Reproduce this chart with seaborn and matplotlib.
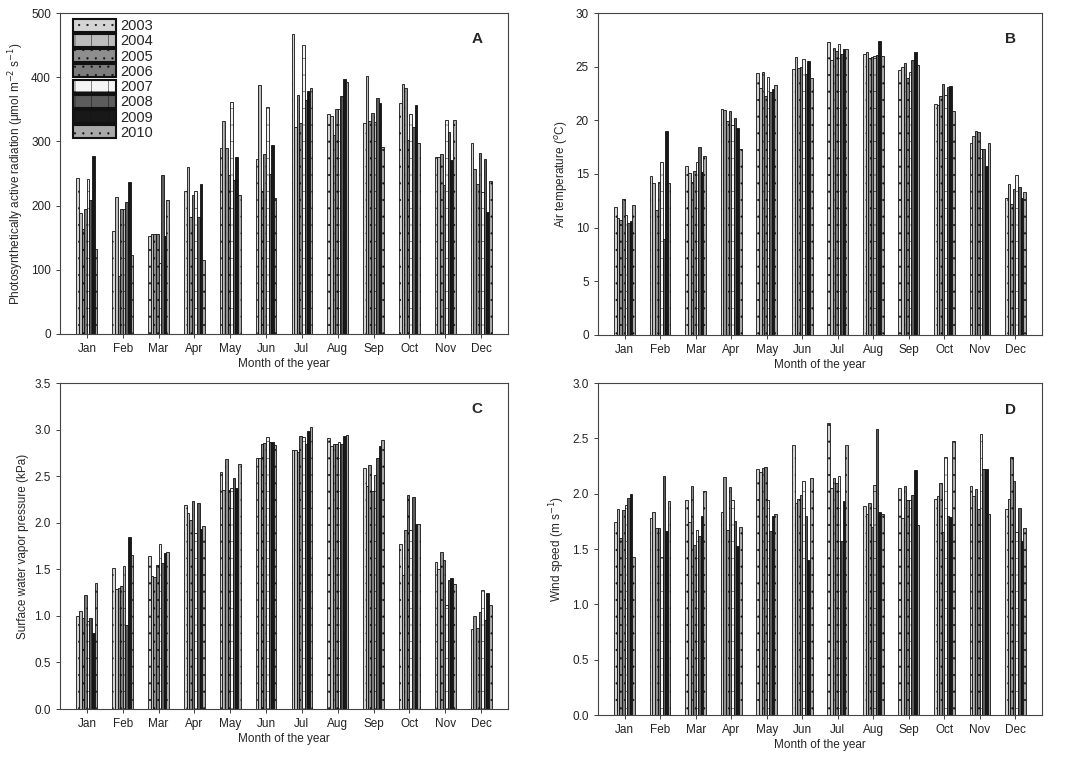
import matplotlib
matplotlib.use("Agg")
import matplotlib.pyplot as plt
import pandas as pd
import seaborn as sns

months = ["Jan", "Feb", "Mar", "Apr", "May", "Jun", "Jul", "Aug", "Sep", "Oct", "Nov", "Dec"]
years = ["2003", "2004", "2005", "2006", "2007", "2008", "2009", "2010"]

# rows = months, columns = years 2003..2010
par = [
    [243, 188, 163, 195, 241, 208, 277, 133],
    [161, 214, 90, 195, 195, 205, 237, 123],
    [152, 155, 156, 156, 110, 248, 152, 209],
    [223, 260, 183, 216, 222, 182, 234, 115],
    [290, 331, 290, 248, 361, 240, 275, 217],
    [272, 388, 223, 280, 354, 250, 295, 212],
    [468, 323, 373, 328, 450, 365, 379, 383],
    [342, 340, 310, 350, 350, 370, 397, 393],
    [328, 402, 332, 344, 330, 367, 360, 291],
    [360, 389, 383, 302, 342, 323, 357, 298],
    [276, 276, 280, 232, 334, 315, 271, 333],
    [298, 257, 234, 282, 221, 272, 190, 239],
]
air_temp = [
    [11.9, 10.9, 10.7, 12.7, 11.2, 10.4, 10.6, 12.1],
    [14.8, 14.2, 11.6, 14.3, 16.1, 8.9, 19.0, 14.2],
    [15.7, 15.1, 14.3, 15.3, 16.1, 17.5, 15.2, 16.7],
    [21.1, 21.0, 19.9, 20.9, 19.6, 20.2, 19.3, 17.3],
    [24.4, 23.0, 24.5, 22.3, 24.0, 22.6, 22.9, 23.3],
    [24.8, 25.9, 24.9, 25.0, 25.7, 24.3, 25.5, 23.9],
    [27.3, 25.6, 26.7, 26.5, 27.1, 26.2, 26.6, 26.6],
    [26.2, 26.4, 25.8, 25.9, 26.0, 26.1, 27.4, 26.0],
    [24.7, 25.0, 25.3, 23.9, 24.5, 25.6, 26.4, 25.2],
    [21.5, 21.4, 22.3, 23.4, 22.4, 23.1, 23.2, 20.9],
    [17.9, 18.5, 19.0, 18.9, 17.3, 17.3, 15.7, 17.9],
    [12.8, 14.1, 12.2, 13.6, 14.9, 13.8, 12.8, 13.3],
]
vapor = [
    [1.00, 1.05, 0.98, 1.22, 0.94, 0.98, 0.82, 1.35],
    [1.51, 1.29, 1.30, 1.32, 1.54, 0.90, 1.85, 1.65],
    [1.64, 1.43, 1.42, 1.55, 1.77, 1.57, 1.68, 1.69],
    [2.19, 2.10, 2.03, 2.23, 1.89, 2.21, 1.93, 1.96],
    [2.54, 2.35, 2.68, 2.35, 2.37, 2.48, 2.37, 2.63],
    [2.70, 2.69, 2.84, 2.86, 2.92, 2.87, 2.87, 2.83],
    [2.78, 2.78, 2.76, 2.93, 2.92, 2.84, 2.98, 3.03],
    [2.91, 2.82, 2.85, 2.84, 2.87, 2.84, 2.93, 2.94],
    [2.59, 2.39, 2.62, 2.34, 2.51, 2.70, 2.82, 2.89],
    [1.77, 1.44, 1.92, 2.30, 1.92, 2.28, 1.99, 1.99],
    [1.58, 1.50, 1.69, 1.60, 1.12, 1.39, 1.41, 1.34],
    [0.86, 1.00, 0.87, 1.04, 1.28, 0.96, 1.25, 1.12],
]
wind = [
    [1.74, 1.86, 1.60, 1.85, 1.90, 1.96, 2.00, 1.43],
    [1.78, 1.83, 1.69, 1.69, 1.43, 2.16, 1.66, 1.93],
    [1.94, 1.74, 2.07, 1.54, 1.67, 1.62, 1.80, 2.02],
    [1.83, 2.15, 1.67, 2.06, 1.94, 1.75, 1.53, 1.70],
    [2.22, 2.20, 2.23, 2.24, 1.94, 1.66, 1.80, 1.82],
    [2.44, 1.92, 1.95, 1.99, 2.11, 1.80, 1.40, 2.14],
    [2.64, 2.05, 2.14, 2.10, 2.16, 1.57, 1.93, 2.44],
    [1.89, 1.82, 1.92, 1.70, 2.08, 2.58, 1.83, 1.82],
    [2.05, 1.78, 2.07, 1.94, 1.94, 1.99, 2.21, 1.72],
    [1.95, 1.98, 2.10, 1.65, 2.33, 1.80, 1.79, 2.48],
    [2.07, 1.98, 2.04, 1.86, 2.54, 2.22, 2.22, 1.82],
    [1.86, 1.95, 2.33, 2.11, 1.65, 1.87, 1.57, 1.69],
]

year_colors = ["#d4d4d4", "#bdbdbd", "#8e8e8e", "#7c7c7c", "#f4f4f4", "#5c5c5c", "#181818", "#a9a9a9"]
year_hatch = ["..", "|", "..", "..", "+", "|", "|", ".."]


def to_long(values):
    rows = []
    for m, row in zip(months, values):
        for y, v in zip(years, row):
            rows.append({"month": m, "year": y, "value": v})
    return pd.DataFrame(rows)


sns.set_style("ticks")
plt.rcParams["hatch.linewidth"] = 0.35
plt.rcParams["font.family"] = ["Liberation Sans", "DejaVu Sans"]

fig = plt.figure(figsize=(10.84, 7.61), dpi=100)
W, H = 1084, 761
boxes = {
    "A": (60, 13, 508, 334),
    "B": (598, 13, 1042, 335),
    "C": (60, 383, 508, 709),
    "D": (598, 383, 1042, 715),
}
panels = [
    ("A", par, (0, 500), 100, "Photosynthetically active radiation (\u03bcmol m$^{-2}$ s$^{-1}$)", "{:.0f}"),
    ("B", air_temp, (0, 30), 5, "Air temperature ($^{o}$C)", "{:.0f}"),
    ("C", vapor, (0, 3.5), 0.5, "Surface water vapor pressure (kPa)", "{:.1f}"),
    ("D", wind, (0, 3.0), 0.5, "Wind speed (m s$^{-1}$)", "{:.1f}"),
]

for letter, values, ylim, step, ylabel, fmt in panels:
    x0, y0, x1, y1 = boxes[letter]
    ax = fig.add_axes([x0 / W, 1 - y1 / H, (x1 - x0) / W, (y1 - y0) / H])
    df = to_long(values)
    sns.barplot(data=df, x="month", y="value", hue="year", order=months, hue_order=years,
                palette=year_colors, width=0.58, gap=0, edgecolor="#111111", linewidth=0.6,
                legend=False, ax=ax)
    for cont, h in zip(ax.containers, year_hatch):
        for p in cont.patches:
            p.set_hatch(h)
    ax.set_ylim(*ylim)
    ax.set_xlim(-0.75, 11.75)
    ticks = [i * step for i in range(int(round(ylim[1] / step)) + 1)]
    ax.set_yticks(ticks)
    ax.set_yticklabels([fmt.format(t) for t in ticks])
    ax.tick_params(axis="both", labelsize=8.5, length=3, width=0.6, colors="#222222")
    ax.set_xlabel("Month of the year", fontsize=8.5, labelpad=2)
    ax.set_ylabel(ylabel, fontsize=8.5)
    for s in ax.spines.values():
        s.set_visible(True)
        s.set_linewidth(0.8)
        s.set_color("#444444")
    ax.text(0.93, 0.92, letter, transform=ax.transAxes, fontsize=11, fontweight="bold",
            ha="center", va="center")
    if letter == "A":
        handles = [c.patches[0] for c in ax.containers]
        leg = ax.legend(handles, years, loc="upper left", bbox_to_anchor=(0.01, 1.01),
                        frameon=False, fontsize=10.5, handlelength=2.9, handleheight=1.0,
                        labelspacing=0.05, handletextpad=0.3, borderpad=0.1)
        for lh in leg.legend_handles:
            lh.set_linewidth(1.5)

fig.savefig("out.png", dpi=100)
